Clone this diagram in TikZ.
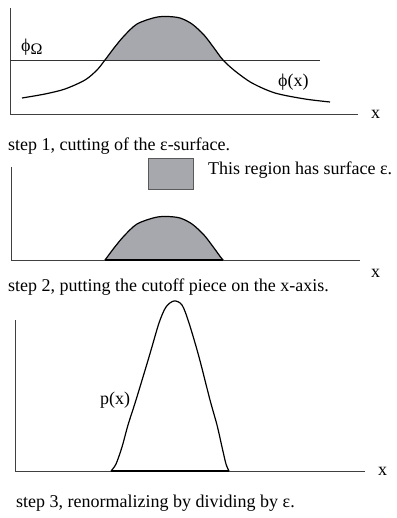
\documentclass[tikz,border=0pt]{standalone}
\usepackage{fontspec}
\setmainfont{Liberation Serif}
\begin{document}
\begin{tikzpicture}[x=1pt,y=-1pt,
  axis/.style={draw=black!75,line width=0.8pt},
  curve/.style={draw=black,line width=1.2pt,line join=round},
  base/.style={draw=black,line width=1.6pt},
  lbl/.style={inner sep=0pt,anchor=base west,font=\fontsize{18}{21}\selectfont},
  captxt/.style={lbl}]
\definecolor{piece}{RGB}{167,168,173}
\useasboundingbox (0,0) rectangle (396,518);
\def\phicurve{plot[smooth] coordinates {(22,98) (45,94) (65,89) (85,80) (97,70) (105,60) (114,48) (124,36) (137,24) (155,17.5) (167,16.5) (180,18) (192,24) (204,35) (214,48) (223,60) (235,71) (252,83) (275,93) (305,99) (330,102)}}
% ---------- step 1
\begin{scope}
  \clip (0,0) rectangle (396,60);
  \fill[piece] \phicurve -- cycle;
\end{scope}
\coordinate (o1) at (10,114);
\coordinate (t1) at (10,8);
\coordinate (e1) at (358,114);
\coordinate (l1a) at (10,60);
\coordinate (l1b) at (320,60);
\draw[axis] (t1) -- (o1) -- (e1);
\draw[draw=black!80,line width=0.8pt] (l1a) -- (l1b);
\draw[curve] \phicurve;
\node[lbl] (x1) at (371,119) {x};
\node[lbl] (phiO) at (21,52) {ϕ\raisebox{-3pt}{\fontsize{16}{18}\selectfont Ω}};
\node[lbl] (phix) at (278,87) {ϕ(x)};
\node[captxt] (cap1) at (8,151) {step 1, cutting of the ε-surface.};
% ---------- step 2
\node[draw=black!65,fill=piece,line width=0.8pt,minimum width=45pt,minimum height=31pt,inner sep=0pt] (box) at (170.5,173.5) {};
\node[lbl] (boxtxt) at (208,175) {This region has surface ε.};
\begin{scope}[yshift=-200pt]
  \begin{scope}
    \clip (0,0) rectangle (396,60);
    \fill[piece] \phicurve -- cycle;
    \draw[curve] \phicurve;
  \end{scope}
\end{scope}
\coordinate (o2) at (11,260);
\coordinate (t2) at (11,167);
\coordinate (e2) at (360,260);
\coordinate (b2a) at (105,260);
\coordinate (b2b) at (223,260);
\draw[axis] (t2) -- (o2) -- (e2);
\draw[base] (b2a) -- (b2b);
\node[lbl] (x2) at (371,277) {x};
\node[captxt] (cap2) at (8,291) {step 2, putting the cutoff piece on the x-axis.};
% ---------- step 3
\coordinate (o3) at (15,471);
\coordinate (t3) at (15,320);
\coordinate (e3) at (365,471);
\coordinate (b3a) at (111,471);
\coordinate (b3b) at (229,471);
\draw[axis] (t3) -- (o3) -- (e3);
\draw[base] (b3a) -- (b3b);
\draw[curve] plot[smooth] coordinates {(111,471) (116,464) (122,447) (128,425) (136,400) (149,357) (159,323) (166,307) (174,301) (182,305) (189,323) (199,357) (210,400) (217,425) (222,447) (226,464) (229,471)};
\node[lbl] (x3) at (378,475) {x};
\node[lbl] (px) at (100,404) {p(x)};
\node[captxt] (cap3) at (16,507) {step 3, renormalizing by dividing by ε.};
\end{tikzpicture}
\end{document}
